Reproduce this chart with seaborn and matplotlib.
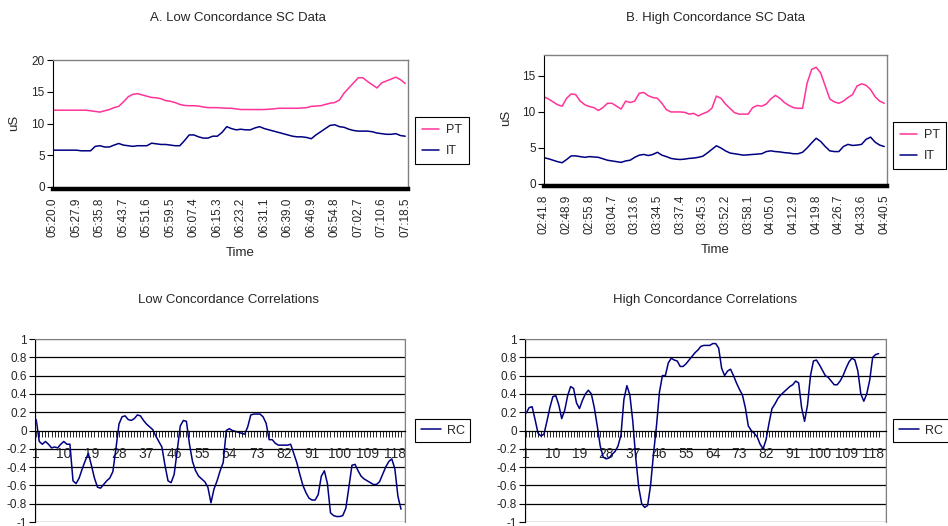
import numpy as np
import pandas as pd
import seaborn as sns
import matplotlib.pyplot as plt
from matplotlib.patches import Rectangle

sns.set_style("white")
plt.rcParams['font.family'] = ['Liberation Sans', 'DejaVu Sans']

# A. low concordance SC data (5 samples between labelled times)
low_times = ["05:20.0", "05:27.9", "05:35.8", "05:43.7", "05:51.6", "05:59.5",
             "06:07.4", "06:15.3", "06:23.2", "06:31.1", "06:39.0", "06:46.9",
             "06:54.8", "07:02.7", "07:10.6", "07:18.5"]
low_pt = [12.1, 12.1, 12.1, 12.1, 12.1, 12.1, 12.1, 12.1, 12.0, 11.9,
          11.8, 12.0, 12.2, 12.5, 12.7, 13.4, 14.2, 14.6, 14.7, 14.5,
          14.3, 14.1, 14.05, 13.9, 13.6, 13.5, 13.3, 13.0, 12.85, 12.8,
          12.8, 12.75, 12.6, 12.5, 12.5, 12.5, 12.45, 12.4, 12.4, 12.3,
          12.2, 12.2, 12.2, 12.2, 12.2, 12.2, 12.25, 12.3, 12.4, 12.4,
          12.4, 12.4, 12.4, 12.45, 12.5, 12.7, 12.75, 12.8, 13.0, 13.2,
          13.3, 13.7, 14.8, 15.6, 16.4, 17.2, 17.2, 16.6, 16.1, 15.6,
          16.4, 16.7, 17.0, 17.3, 16.9, 16.3]
low_it = [5.8, 5.8, 5.8, 5.8, 5.8, 5.8, 5.7, 5.7, 5.7, 6.4,
          6.5, 6.3, 6.3, 6.6, 6.85, 6.6, 6.5, 6.4, 6.5, 6.5,
          6.5, 6.9, 6.8, 6.7, 6.7, 6.6, 6.5, 6.5, 7.3, 8.2,
          8.2, 7.9, 7.7, 7.7, 8.0, 8.0, 8.6, 9.5, 9.2, 9.0,
          9.1, 9.0, 9.0, 9.3, 9.5, 9.2, 9.0, 8.8, 8.6, 8.4,
          8.2, 8.0, 7.9, 7.9, 7.8, 7.6, 8.2, 8.7, 9.2, 9.7,
          9.8, 9.5, 9.4, 9.1, 8.9, 8.8, 8.8, 8.8, 8.7, 8.5,
          8.4, 8.3, 8.3, 8.4, 8.1, 8.0]

# B. high concordance SC data
high_times = ["02:41.8", "02:48.9", "02:55.8", "03:04.7", "03:13.6", "03:34.5",
              "03:37.4", "03:45.3", "03:52.2", "03:58.1", "04:05.0", "04:12.9",
              "04:19.8", "04:26.7", "04:33.6", "04:40.5"]
high_pt = [12.1, 11.8, 11.4, 11.0, 10.8, 11.9, 12.5, 12.4, 11.5, 11.0,
           10.75, 10.6, 10.2, 10.6, 11.2, 11.2, 10.8, 10.4, 11.5, 11.3,
           11.5, 12.6, 12.7, 12.25, 12.0, 11.9, 11.2, 10.3, 10.0, 10.0,
           10.0, 9.95, 9.7, 9.8, 9.45, 9.75, 10.0, 10.5, 12.2, 11.9,
           11.1, 10.5, 9.9, 9.7, 9.7, 9.7, 10.6, 10.9, 10.8, 11.1,
           11.8, 12.3, 11.9, 11.3, 10.9, 10.6, 10.5, 10.5, 14.0, 15.9,
           16.2, 15.4, 13.6, 11.8, 11.4, 11.2, 11.5, 12.0, 12.4, 13.6,
           13.9, 13.7, 13.1, 12.1, 11.5, 11.2]
high_it = [3.65, 3.5, 3.3, 3.1, 2.95, 3.4, 3.9, 3.9, 3.8, 3.7,
           3.8, 3.75, 3.7, 3.5, 3.3, 3.2, 3.1, 3.0, 3.2, 3.3,
           3.7, 4.0, 4.1, 3.95, 4.1, 4.4, 4.0, 3.8, 3.55, 3.45,
           3.4, 3.45, 3.55, 3.6, 3.7, 3.85, 4.3, 4.8, 5.3, 5.0,
           4.6, 4.3, 4.2, 4.1, 4.0, 4.05, 4.1, 4.15, 4.2, 4.5,
           4.6, 4.5, 4.45, 4.35, 4.3, 4.2, 4.2, 4.4, 5.0, 5.7,
           6.35, 5.9, 5.2, 4.6, 4.5, 4.5, 5.2, 5.5, 5.35, 5.4,
           5.5, 6.2, 6.5, 5.8, 5.4, 5.2]

# correlations
low_rc = [0.12, -0.12, -0.15, -0.12, -0.15, -0.19, -0.18, -0.19, -0.15, -0.12,
          -0.15, -0.15, -0.55, -0.58, -0.52, -0.42, -0.33, -0.25, -0.38, -0.52,
          -0.62, -0.63, -0.59, -0.55, -0.52, -0.45, -0.2, 0.07, 0.15, 0.16,
          0.12, 0.11, 0.13, 0.17, 0.16, 0.11, 0.07, 0.04, 0.01, -0.06,
          -0.12, -0.18, -0.38, -0.55, -0.57, -0.48, -0.22, 0.05, 0.11, 0.1,
          -0.15, -0.34, -0.44, -0.5, -0.53, -0.56, -0.62, -0.79, -0.64, -0.55,
          -0.44, -0.35, 0.0, 0.02, 0.0, -0.01, -0.02, -0.03, -0.04, 0.04,
          0.17, 0.18, 0.18, 0.18, 0.15, 0.08, -0.1, -0.1, -0.14, -0.16,
          -0.16, -0.16, -0.16, -0.15, -0.25, -0.35, -0.48, -0.6, -0.68, -0.74,
          -0.76, -0.76, -0.7, -0.5, -0.44, -0.58, -0.9, -0.93, -0.94, -0.94,
          -0.93, -0.85, -0.62, -0.38, -0.37, -0.44, -0.5, -0.53, -0.55, -0.57,
          -0.59, -0.59, -0.56, -0.48, -0.4, -0.34, -0.31, -0.42, -0.72, -0.86]
high_rc = [0.19, 0.25, 0.26, 0.12, -0.03, -0.06, -0.04, 0.1, 0.25, 0.37,
           0.38, 0.28, 0.13, 0.22, 0.38, 0.48, 0.46, 0.3, 0.24, 0.33,
           0.4, 0.44, 0.4, 0.25, 0.05, -0.17, -0.29, -0.31, -0.3, -0.26,
           -0.23, -0.17, -0.05, 0.34, 0.49, 0.39, 0.1, -0.3, -0.62, -0.8,
           -0.84, -0.82, -0.6, -0.25, 0.05, 0.42, 0.6, 0.6, 0.74, 0.79,
           0.77, 0.76, 0.7, 0.7, 0.73, 0.77, 0.81, 0.85, 0.88, 0.92,
           0.93, 0.93, 0.93, 0.95, 0.95, 0.9, 0.68, 0.6, 0.65, 0.67,
           0.6, 0.52, 0.45, 0.39, 0.25, 0.05, 0.0, -0.03, -0.07, -0.15,
           -0.2, -0.1, 0.08, 0.24, 0.29, 0.35, 0.39, 0.42, 0.45, 0.48,
           0.5, 0.54, 0.52, 0.25, 0.1, 0.28, 0.6, 0.76, 0.77, 0.72,
           0.66, 0.6, 0.58, 0.54, 0.5, 0.5, 0.54, 0.6, 0.68, 0.75,
           0.79, 0.77, 0.65, 0.4, 0.32, 0.4, 0.55, 0.8, 0.83, 0.84]
rc_ticks = [-1, -0.8, -0.6, -0.4, -0.2, 0, 0.2, 0.4, 0.6, 0.8, 1]
rc_tick_labels = ["-1", "-0.8", "-0.6", "-0.4", "-0.2", "0", "0.2", "0.4", "0.6", "0.8", "1"]

PINK = '#ff3399'
NAVY = '#000080'
GRAY = '#808080'

fig = plt.figure(figsize=(9.48, 5.26), dpi=100)
fig.patch.set_facecolor('white')


def sc_panel(rect, pt, it, times, ymax, yticks, leg_anchor):
    ax = fig.add_axes(rect)
    df = pd.DataFrame({'idx': np.arange(len(pt)), 'PT': pt, 'IT': it})
    sns.lineplot(data=df, x='idx', y='PT', ax=ax, color=PINK, lw=1.1, label='PT')
    sns.lineplot(data=df, x='idx', y='IT', ax=ax, color=NAVY, lw=1.1, label='IT')
    step = (len(pt) - 1) // (len(times) - 1)
    ax.set_xticks(np.arange(0, len(pt), step))
    ax.set_xticklabels(times)
    ax.set_xlim(0, len(pt) - 1 + 0.6)
    ax.set_ylim(0, ymax)
    ax.set_yticks(yticks)
    ax.set_xlabel('')
    ax.set_ylabel('')
    ax.tick_params(axis='y', direction='out', length=4, width=0.8, color='black',
                   labelsize=8.5, pad=2, left=True)
    ax.tick_params(axis='x', length=0, pad=6, labelrotation=90, labelsize=8.5)
    for s in ['top', 'right']:
        ax.spines[s].set_color(GRAY)
        ax.spines[s].set_linewidth(1.0)
    ax.spines['left'].set_color('black')
    ax.spines['left'].set_linewidth(0.8)
    ax.spines['bottom'].set_color('black')
    ax.spines['bottom'].set_linewidth(3.2)
    ax.spines['bottom'].set_position(('outward', 1.5))
    leg = ax.legend(loc='upper left', bbox_to_anchor=leg_anchor, frameon=True,
                    fancybox=False, edgecolor='black', fontsize=9, handlelength=1.4,
                    borderaxespad=0, borderpad=0.55, labelspacing=0.75,
                    handletextpad=0.5, framealpha=1)
    leg.get_frame().set_linewidth(0.8)
    return ax


def rc_panel(rect, rc, xmax, leg_anchor):
    ax = fig.add_axes(rect)
    cats = np.arange(1, len(rc) + 1)
    sns.lineplot(x=cats, y=rc, ax=ax, color=NAVY, lw=1.1, label='RC')
    ax.set_ylim(-1, 1)
    ax.set_xlim(0.6, xmax)
    ax.set_yticks(rc_ticks)
    ax.set_yticklabels(rc_tick_labels)
    for t in rc_ticks:
        if t != 0 and abs(t) < 1:
            ax.axhline(t, color='black', lw=0.9, zorder=0.5)
    ax.add_patch(Rectangle((0, 0), 1, 1, transform=ax.transAxes, fill=False,
                           edgecolor=GRAY, lw=1.0, zorder=2))
    ax.set_xticks(cats)
    ax.set_xticklabels([str(c) if (c - 1) % 9 == 0 else '' for c in cats], fontsize=8.5)
    ax.spines['bottom'].set_position(('data', 0))
    ax.spines['bottom'].set_color('black')
    ax.spines['bottom'].set_linewidth(0.9)
    ax.spines['left'].set_color('black')
    ax.spines['left'].set_linewidth(0.8)
    ax.spines['top'].set_color(GRAY)
    ax.spines['right'].set_color(GRAY)
    ax.tick_params(axis='x', direction='out', length=4, width=0.6, color='black',
                   pad=8, bottom=True)
    ax.tick_params(axis='y', direction='out', length=4, width=0.8, color='black',
                   labelsize=8.5, pad=2, left=True)
    leg = ax.legend(loc='upper left', bbox_to_anchor=leg_anchor, frameon=True,
                    fancybox=False, edgecolor='black', fontsize=9, handlelength=1.6,
                    borderaxespad=0, borderpad=0.45, handletextpad=0.5, framealpha=1)
    leg.get_frame().set_linewidth(0.8)
    return ax


sc_panel([0.0559, 0.6445, 0.3745, 0.2414], low_pt, low_it, low_times, 20,
         [0, 5, 10, 15, 20], (1.02, 0.551))
sc_panel([0.5738, 0.6502, 0.3618, 0.2452], high_pt, high_it, high_times, 17.9,
         [0, 5, 10, 15], (1.0175, 0.48))
rc_panel([0.0369, 0.0076, 0.3903, 0.3479], low_rc, 121.3, (1.027, 0.563))
rc_panel([0.5538, 0.0076, 0.3808, 0.3479], high_rc, 122.5, (1.02, 0.563))

fig.text(238 / 948, 1 - 18 / 526, "A. Low Concordance SC Data", ha='center', va='center', fontsize=9.5)
fig.text(715 / 948, 1 - 18 / 526, "B. High Concordance SC Data", ha='center', va='center', fontsize=9.5)
fig.text(228 / 948, 1 - 300 / 526, "Low Concordance Correlations", ha='center', va='center', fontsize=9.5)
fig.text(705 / 948, 1 - 300 / 526, "High Concordance Correlations", ha='center', va='center', fontsize=9.5)
fig.text(14 / 948, 1 - 123 / 526, "uS", ha='center', va='center', rotation=90, fontsize=9.5)
fig.text(506 / 948, 1 - 118 / 526, "uS", ha='center', va='center', rotation=90, fontsize=9.5)
fig.text(240 / 948, 1 - 253 / 526, "Time", ha='center', va='center', fontsize=9.5)
fig.text(715 / 948, 1 - 250 / 526, "Time", ha='center', va='center', fontsize=9.5)

plt.savefig('out.png', dpi=100)
